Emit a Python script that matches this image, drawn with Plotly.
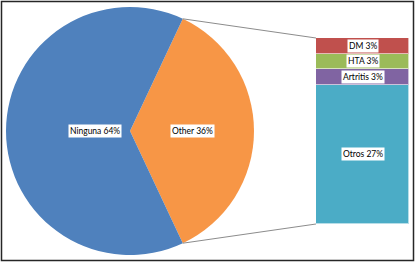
import math
import plotly.graph_objects as go

# ---- data ----
pie_labels = ["Other", "Ninguna"]
pie_values = [36, 64]
pie_colors = ["#F79646", "#4F81BD"]

bar_labels = ["Otros", "Artritis", "HTA", "DM"]
bar_values = [27, 3, 3, 3]
bar_colors = ["#4BACC6", "#8064A2", "#9BBB59", "#C0504D"]

# ---- layout geometry (pixels) ----
W, H = 415, 262
cx, cy, R = 130, 131, 124
bx0, bx1, by_top, by_bot = 316, 409, 38, 224

total = sum(pie_values)
frac_other = pie_values[0] / total
rotation = 90 - frac_other * 180

fig = go.Figure()
fig.add_trace(go.Pie(
    labels=pie_labels, values=pie_values, sort=False, direction="clockwise",
    rotation=rotation, marker=dict(colors=pie_colors, line=dict(width=0)),
    textinfo="none", hoverinfo="label+percent",
    domain=dict(x=[(cx - R) / W, (cx + R) / W], y=[(H - cy - R) / H, (H - cy + R) / H]),
    showlegend=False,
))

for lab, val, col in zip(bar_labels, bar_values, bar_colors):
    fig.add_trace(go.Bar(
        x=[0], y=[val], name=lab, width=1,
        marker=dict(color=col, line=dict(color="rgba(255,255,255,0.6)", width=1)),
        showlegend=False, xaxis="x", yaxis="y",
    ))

annotations = []
font = dict(family="Lato, Liberation Sans, sans-serif", size=8.5, color="#000")
# bar labels
cum = 0
for lab, val in zip(bar_labels, bar_values):
    annotations.append(dict(x=0, y=cum + val / 2, xref="x", yref="y", text=f"{lab} {val}%",
                            showarrow=False, bgcolor="white", borderpad=1, font=font))
    cum += val

# pie labels
start = rotation
for lab, val in zip(pie_labels, pie_values):
    span = val / total * 360
    mid = math.radians(start + span / 2)
    px = cx + 0.5 * R * math.sin(mid)
    py = cy - 0.5 * R * math.cos(mid)
    annotations.append(dict(x=px / W, y=1 - py / H, xref="paper", yref="paper",
                            text=f"{lab} {round(val / total * 100)}%", showarrow=False,
                            bgcolor="white", borderpad=1, font=font))
    start += span

shapes = []
# connector lines from Other slice edges to bar
a_top = math.radians(rotation)
a_bot = math.radians(rotation + frac_other * 360)
for a, by in ((a_top, by_top), (a_bot, by_bot)):
    px = cx + R * math.sin(a)
    py = cy - R * math.cos(a)
    shapes.append(dict(type="line", xref="paper", yref="paper",
                       x0=px / W, y0=1 - py / H, x1=bx0 / W, y1=1 - by / H,
                       line=dict(color="#8C8C8C", width=1)))
# border
shapes.append(dict(type="rect", xref="paper", yref="paper",
                   x0=1.5 / W, x1=413.5 / W, y0=1 - 260.5 / H, y1=1 - 1.5 / H,
                   line=dict(color="#262626", width=1.5)))

fig.update_layout(
    width=W, height=H, margin=dict(l=0, r=0, t=0, b=0),
    paper_bgcolor="white", plot_bgcolor="white",
    barmode="stack", bargap=0,
    xaxis=dict(domain=[bx0 / W, bx1 / W], range=[-0.5, 0.5], visible=False, fixedrange=True),
    yaxis=dict(domain=[(H - by_bot) / H, (H - by_top) / H], range=[0, sum(bar_values)],
               visible=False, fixedrange=True),
    annotations=annotations, shapes=shapes,
)

fig.write_html("out.html", config={"displayModeBar": False},
               post_script="document.body.style.margin='0px';document.body.style.overflow='hidden';")
